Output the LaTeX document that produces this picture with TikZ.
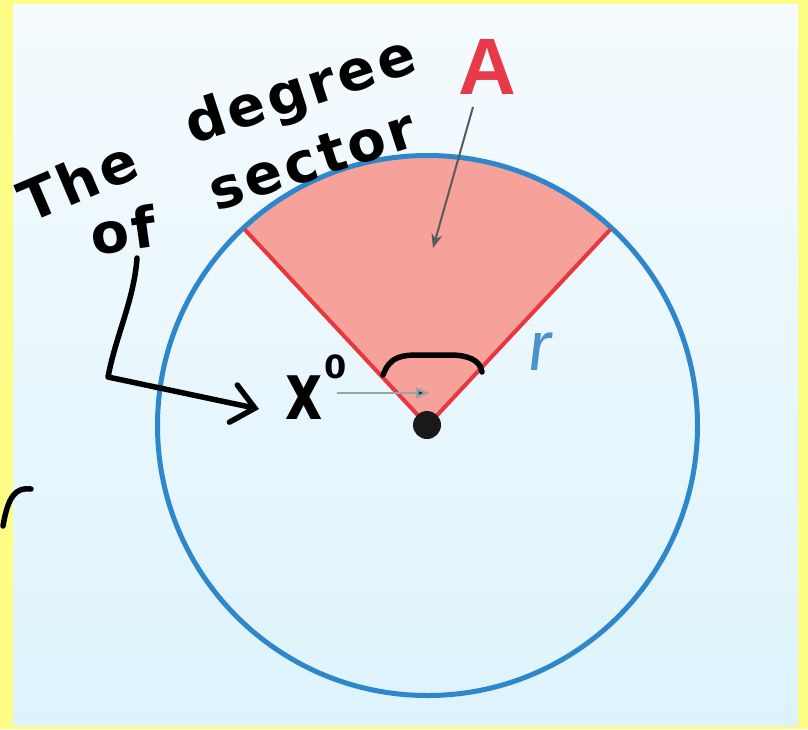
\documentclass[tikz,border=0pt]{standalone}
\usepackage{fontspec}
\setmainfont{DejaVu Sans}
\newfontfamily\labelfont{Liberation Sans}
\newfontfamily\handfont[LetterSpace=6]{DejaVu Sans}
\usetikzlibrary{arrows.meta}
\definecolor{bordery}{HTML}{FDFC84}
\definecolor{bgtop}{HTML}{F5FBFE}
\definecolor{bgbot}{HTML}{DDF3FC}
\definecolor{circblue}{HTML}{2E86CB}
\definecolor{secfill}{HTML}{F6A29B}
\definecolor{secline}{HTML}{E8383F}
\definecolor{labred}{HTML}{E63A48}
\definecolor{labblue}{HTML}{4B92CC}
\definecolor{ptrgray}{HTML}{9AA3A6}
\begin{document}
\begin{tikzpicture}[x=1pt,y=-1pt,
  hand/.style={font=\handfont\bfseries\fontsize{56}{56}\selectfont, inner sep=0pt, anchor=base},
  ink/.style={line width=5.5pt, line cap=round, line join=round, draw=black},
  label/.style={inner sep=0pt, font=\labelfont\bfseries\fontsize{80}{80}\selectfont}]
\useasboundingbox (0,0) rectangle (808,729);
\fill[bordery] (0,0) rectangle (808,729);
\shade[top color=bgtop, bottom color=bgbot] (13,4) rectangle (798,725);
% circle and sector
\coordinate (O) at (427.5,425.5);
\fill[secfill] (O) -- ++(-47:268) arc[start angle=-47, end angle=-133, radius=268] -- cycle;
\draw[circblue, line width=5pt] (O) circle[radius=270];
\draw[secline, line width=4pt, line cap=round] (O) -- +(-47:267);
\draw[secline, line width=4pt, line cap=round] (O) -- +(-133:267);
\node[circle, fill=black!90, minimum size=28pt, inner sep=0pt] (dot) at (427,425) {};
% labels
\node[label, labred] (A) at (487,67) {A};
\coordinate (Aend) at (433,248);
\draw[line width=2pt, draw=black!65, -{Stealth[length=14pt,width=11pt]}] (A) ++(-14,40) -- (Aend);
\node[label, labblue, font=\labelfont\fontsize{70}{70}\selectfont, xslant=0.12] (r) at (540,352) {r};
% handwritten texts
\node[hand, rotate=23] (the) at (86,200) {The};
\node[hand, rotate=18] (degree) at (306,108) {degree};
\node[hand, rotate=8] (of) at (126,251) {of};
\node[hand, rotate=18] (sector) at (318,178) {sector};
\node[inner sep=0pt, font=\handfont\bfseries\fontsize{80}{80}\selectfont, xscale=0.72] (x) at (304,398) {x};
\node[inner sep=0pt, font=\handfont\bfseries\fontsize{32}{32}\selectfont] (deg) at (336,367) {0};
% gray pointer from x to vertex
\coordinate (ptrS) at (337,393);
\coordinate (ptrE) at (430,393);
\draw[line width=2.5pt, draw=ptrgray, -{Triangle[length=14pt,width=11pt,fill=black!80]}] (ptrS) -- (ptrE);
% angle bracket
\coordinate (b1) at (383,375);
\coordinate (b2) at (482,372);
\draw[ink] (b1) .. controls (390,356) and (402,355) .. (420,355) -- (450,355) .. controls (468,355) and (480,360) .. (b2);
% L-shaped arrow from "of" to x
\coordinate (Lstart) at (137,258);
\coordinate (Lend) at (259,409);
\draw[ink, -{Straight Barb[length=22pt,width=38pt,line cap=round]}] (Lstart) .. controls (134,300) and (116,335) .. (108,377) -- (Lend);
% partial stroke at the left edge
\coordinate (p1) at (31,489);
\coordinate (p2) at (3,526);
\draw[ink] (p1) .. controls (16,487) and (8,496) .. (p2);
\end{tikzpicture}
\end{document}
